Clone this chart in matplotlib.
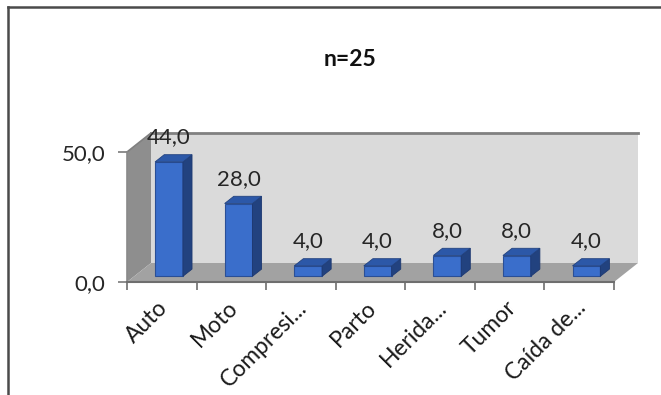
import matplotlib
matplotlib.use("Agg")
import matplotlib.pyplot as plt
from matplotlib.patches import Polygon
from matplotlib.lines import Line2D
import matplotlib.transforms as mtransforms

plt.rcParams['font.family'] = ['Lato', 'DejaVu Sans']

# ---- data ----
categories = ["Auto", "Moto", "Compresi...", "Parto", "Herida...", "Tumor", "Caída de..."]
values = [44.0, 28.0, 4.0, 4.0, 8.0, 8.0, 4.0]
y_ticks = [0, 50]
y_tick_labels = ["0,0", "50,0"]
title = "n=25"

# ---- figure ----
W, H = 661, 395
fig = plt.figure(figsize=(W / 100, H / 100), dpi=100)
fig.patch.set_facecolor("white")

# front plane of the 3D box
x_left, x_right = 127, 614
y_front0, y_front50 = 282, 152
ax = fig.add_axes([x_left / W, (H - y_front0) / H, (x_right - x_left) / W, (y_front0 - y_front50) / H])
ax.set_facecolor("none")
n = len(categories)
ax.set_xlim(-0.5, n - 0.5)
ax.set_ylim(0, 50)

# depth offsets (full depth) in data units
px_per_cat = (x_right - x_left) / n
px_per_val = (y_front0 - y_front50) / 50
DX = 24 / px_per_cat
DY = 19 / px_per_val


def P(x, y, z):
    return (x + z * DX, y + z * DY)


def quad(pts, color, z=1, ec="none", lw=0):
    ax.add_patch(Polygon([P(*p) for p in pts], closed=True, facecolor=color,
                         edgecolor=ec, lw=lw, clip_on=False, zorder=z))


xa, xb = -0.5, n - 0.5
ytop = 50
# back wall
quad([(xa, 0, 1), (xb, 0, 1), (xb, ytop, 1), (xa, ytop, 1)], "#dadada", z=1)
# side wall
quad([(xa, 0, 0), (xa, 0, 1), (xa, ytop, 1), (xa, ytop, 0)], "#8e8e8e", z=1.1)
# floor
quad([(xa, 0, 0), (xb, 0, 0), (xb, 0, 1), (xa, 0, 1)], "#a2a2a2", z=1.2)
# top edge of back wall
ax.plot([P(xa, ytop, 1)[0], P(xb, ytop, 1)[0]], [P(xa, ytop, 1)[1], P(xb, ytop, 1)[1]],
        color="#808080", lw=2.0, clip_on=False, zorder=1.3)
ax.plot([P(xa, ytop, 0)[0], P(xa, ytop, 1)[0]], [P(xa, ytop, 0)[1], P(xa, ytop, 1)[1]],
        color="#808080", lw=1.2, clip_on=False, zorder=1.3)

# bars
bw = 0.40
z0, z1 = 0.30, 0.68
for i, v in enumerate(values):
    x0, x1 = i - bw / 2, i + bw / 2
    quad([(x0, 0, z0), (x1, 0, z0), (x1, v, z0), (x0, v, z0)], "#3a6ecb", z=3, ec="#2a4f96", lw=0.8)
    quad([(x1, 0, z0), (x1, 0, z1), (x1, v, z1), (x1, v, z0)], "#22427f", z=3, ec="#1d3870", lw=0.6)
    quad([(x0, v, z0), (x1, v, z0), (x1, v, z1), (x0, v, z1)], "#2c58a8", z=3, ec="#22427f", lw=0.6)
    lx, ly = P(i, v, z0)
    ax.annotate(f"{v:.1f}".replace(".", ","), (lx, ly), xytext=(0, 13.5), textcoords="offset points",
                ha="center", va="baseline", fontsize=16, color="#262626", zorder=5,
                annotation_clip=False)

# axes styling
for s in ["top", "right"]:
    ax.spines[s].set_visible(False)
ax.spines["left"].set_color("#8a8a8a")
ax.spines["left"].set_linewidth(1.2)
ax.spines["bottom"].set_color("#6e6e6e")
ax.spines["bottom"].set_linewidth(1.5)
ax.spines["left"].set_zorder(4)
ax.spines["bottom"].set_zorder(4)

ax.set_yticks(y_ticks)
ax.set_yticklabels(y_tick_labels, fontsize=16, color="#262626")
ax.tick_params(axis="y", length=6.5, width=1.2, color="#7a7a7a", pad=9)

ax.set_xticks(range(n))
ax.set_xticklabels(categories, fontsize=16.5, color="#1a1a1a", rotation=45, ha="right",
                   va="center", rotation_mode="anchor")
ax.tick_params(axis="x", which="major", length=0, pad=16)
ax.set_xticks([i - 0.5 for i in range(n + 1)], minor=True)
ax.tick_params(axis="x", which="minor", length=6, width=1.2, color="#6e6e6e", direction="out")
shift = mtransforms.ScaledTranslation(3 / 100, 0, fig.dpi_scale_trans)
for lab in ax.get_xticklabels():
    lab.set_transform(lab.get_transform() + shift)

# title
fig.text(350 / W, 1 - 59 / H, title, ha="center", va="center", fontsize=16.5,
         fontweight="bold", color="#111111")

# frame (left and top edges)
fig.add_artist(Line2D([8 / W, 8 / W], [0, 1 - 7 / H], transform=fig.transFigure,
                      color="#4a4a4a", lw=1.8))
fig.add_artist(Line2D([8 / W, 1], [1 - 7 / H, 1 - 7 / H], transform=fig.transFigure,
                      color="#4a4a4a", lw=1.8))

fig.savefig("out.png", dpi=100, facecolor="white")
